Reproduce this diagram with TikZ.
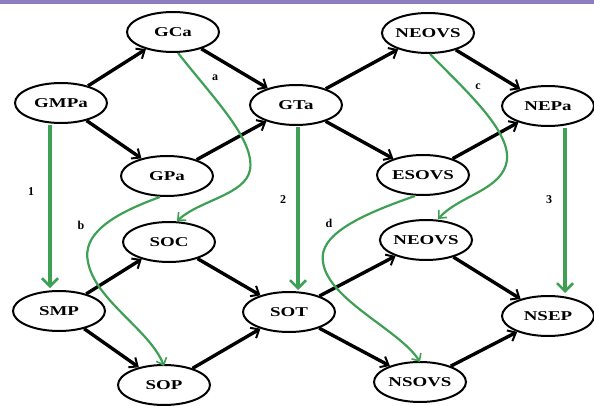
\documentclass[tikz,border=0pt]{standalone}
\usepackage{fontspec}
\setmainfont{Liberation Serif}
\usetikzlibrary{arrows.meta,shapes.geometric}
\definecolor{gline}{RGB}{62,160,85}
\definecolor{topbar}{RGB}{140,126,190}
\newcommand{\nt}[1]{\scalebox{1.4}[1]{#1}}
\tikzset{
  st/.style={ellipse,draw=black,line width=2pt,minimum width=92pt,minimum height=40pt,inner sep=0pt,
     font=\fontsize{13.5}{15}\selectfont\bfseries},
  blk/.style={line width=3.4pt,-{Straight Barb[length=7pt,width=12pt,line width=2pt]}},
  gv/.style={draw=gline,line width=4pt,-{Straight Barb[length=8pt,width=16pt,line width=2.5pt]}},
  gc/.style={draw=gline,line width=2.2pt,-{Straight Barb[length=6pt,width=11pt,line width=1.6pt]}},
  lab/.style={font=\fontsize{12}{14}\selectfont\bfseries,inner sep=0pt}
}
\begin{document}
\begin{tikzpicture}[x=1pt,y=-1pt]
\useasboundingbox (0,0) rectangle (594,406);
\fill[topbar] (0,0) rectangle (594,4);
% nodes
\node[st] (GMPa) at (61,103) {\nt{GMPa}};
\node[st] (GCa) at (173,32) {\nt{GCa}};
\node[st] (GPa) at (167,176) {\nt{GPa}};
\node[st] (GTa) at (296,105) {\nt{GTa}};
\node[st] (NEOVS) at (428,33) {\nt{NEOVS}};
\node[st] (ESOVS) at (423,175) {\nt{ESOVS}};
\node[st] (NEPa) at (548,106) {\nt{NEPa}};
\node[st] (SMP) at (59,311) {\nt{SMP}};
\node[st] (SOC) at (169,242) {\nt{SOC}};
\node[st] (SOP) at (164,385) {\nt{SOP}};
\node[st] (SOT) at (289,312) {\nt{SOT}};
\node[st] (NEOVSb) at (426,240) {\nt{NEOVS}};
\node[st] (NSOVS) at (420,382) {\nt{NSOVS}};
\node[st] (NSEP) at (548,316) {\nt{NSEP}};
% black edges
\draw[blk] (GMPa) -- (GCa);
\draw[blk] (GMPa) -- (GPa);
\draw[blk] (GCa) -- (GTa);
\draw[blk] (GPa) -- (GTa);
\draw[blk] (GTa) -- (NEOVS);
\draw[blk] (GTa) -- (ESOVS);
\draw[blk] (NEOVS) -- (NEPa);
\draw[blk] (ESOVS) -- (NEPa);
\draw[blk] (SMP) -- (SOC);
\draw[blk] (SMP) -- (SOP);
\draw[blk] (SOC) -- (SOT);
\draw[blk] (SOP) -- (SOT);
\draw[blk] (SOT) -- (NEOVSb);
\draw[blk] (SOT) -- (NSOVS);
\draw[blk] (NEOVSb) -- (NSEP);
\draw[blk] (NSOVS) -- (NSEP);
% green vertical
\draw[gv] ([xshift=-11pt,yshift=-1pt]GMPa.south) -- ([xshift=-9pt,yshift=2pt]SMP.north);
\draw[gv] ([xshift=2pt,yshift=-1pt]GTa.south) -- ([xshift=9pt,yshift=1pt]SOT.north);
\draw[gv] ([xshift=17pt,yshift=-1pt]NEPa.south) -- ([xshift=17pt,yshift=2pt]NSEP.north);
% green curves
\draw[gc] ([xshift=5pt]GCa.south) .. controls (215,100) and (255,140) .. (250,170) .. controls (245,195) and (200,200) .. ([xshift=8pt]SOC.north);
\draw[gc] ([xshift=-7pt]GPa.south) .. controls (110,215) and (82,235) .. (88,262) .. controls (95,300) and (150,330) .. ([yshift=-2pt]SOP.north);
\draw[gc] ([xshift=2pt]NEOVS.south) .. controls (465,90) and (510,130) .. (507,160) .. controls (503,190) and (460,195) .. ([xshift=12pt]NEOVSb.north);
\draw[gc] ([xshift=-8pt]ESOVS.south) .. controls (360,215) and (318,235) .. (323,262) .. controls (328,300) and (400,330) .. ([yshift=-1pt]NSOVS.north);
% labels
\node[lab] (l1) at (31,192) {1};
\node[lab] (l2) at (283,200) {2};
\node[lab] (l3) at (549,200) {3};
\node[lab] (la) at (215,78) {a};
\node[lab] (lb) at (81,225) {b};
\node[lab] (lc) at (478,87) {c};
\node[lab] (ld) at (329,223) {d};
\end{tikzpicture}
\end{document}
